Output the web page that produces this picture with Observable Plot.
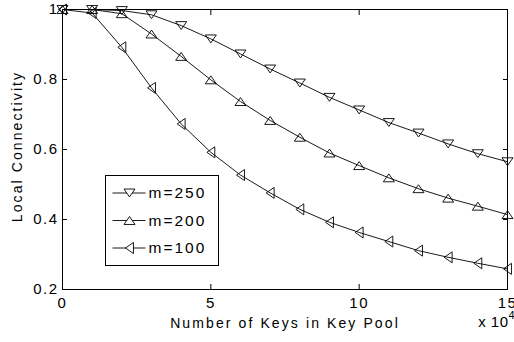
<!DOCTYPE html>
<html><head><meta charset="utf-8">
<script src="https://cdn.jsdelivr.net/npm/d3@7"></script>
<script src="https://cdn.jsdelivr.net/npm/@observablehq/plot@0.6"></script>
<style>
body{margin:0;background:#fff;}
#chart{position:relative;width:514px;height:342px;overflow:hidden;}
</style></head><body><div id="chart"></div>
<script>
// ---- data ----
const keys = [0, 1, 2, 3, 4, 5, 6, 7, 8, 9, 10, 11, 12, 13, 14, 15]; // x 10^4
const seriesNames = ["m=250", "m=200", "m=100"];
const m250 = [1, 1, 0.997, 0.985, 0.954, 0.916, 0.873, 0.830, 0.790, 0.749, 0.713, 0.677, 0.647, 0.616, 0.588, 0.565];
const m200 = [1, 1, 0.988, 0.930, 0.866, 0.799, 0.737, 0.683, 0.635, 0.590, 0.554, 0.519, 0.488, 0.461, 0.438, 0.414];
const m100 = [1, 0.990, 0.892, 0.776, 0.673, 0.592, 0.527, 0.476, 0.429, 0.392, 0.363, 0.337, 0.311, 0.292, 0.275, 0.259];
const xTicks = [0, 5, 10, 15];
const xTickLabels = ["0", "5", "10", "15"];
const yTicks = [0.2, 0.4, 0.6, 0.8, 1];
const yTickLabels = ["0.2", "0.4", "0.6", "0.8", "1"];
const xLabel = "Number of Keys in Key Pool";
const yLabel = "Local Connectivity";
const xMultiplier = "x 10";
const xExponent = "4";

const seriesValues = [m250, m200, m100];
const rows = seriesNames.flatMap((name, s) => keys.map((k, i) => ({series: name, x: k, y: seriesValues[s][i]})));

// triangle marker symbols (down, up, left)
const makeTriangle = (dir) => ({
  draw(ctx, size) {
    const r = Math.sqrt(size / Math.PI);
    const h = 0.72 * r;
    let pts = [[0, -h], [r, h], [-r, h]];
    if (dir === "down") pts = pts.map(([x, y]) => [x, -y]);
    if (dir === "left") pts = pts.map(([x, y]) => [y, x]);
    ctx.moveTo(pts[0][0], pts[0][1]);
    ctx.lineTo(pts[1][0], pts[1][1]);
    ctx.lineTo(pts[2][0], pts[2][1]);
    ctx.closePath();
  }
});
const symbols = [makeTriangle("down"), makeTriangle("up"), makeTriangle("left")];
const R = 5.5;

const seriesMarks = seriesNames.flatMap((name, s) => {
  const d = rows.filter(r => r.series === name);
  return [
    Plot.line(d, {x: "x", y: "y", stroke: "#000", strokeWidth: 0.9}),
    Plot.dot(d, {x: "x", y: "y", symbol: symbols[s], r: R, stroke: "#000", fill: "none", strokeWidth: 0.9})
  ];
});

const plot = Plot.plot({
  width: 514, height: 342,
  marginLeft: 62, marginRight: 7, marginTop: 9, marginBottom: 53,
  style: {fontFamily: "'Liberation Sans', Arial, sans-serif", fontSize: "15px", color: "#000", background: "#fff", overflow: "visible"},
  x: {domain: [0, 15], label: null},
  y: {domain: [0.2, 1], label: null},
  marks: [
    // inward ticks on all four sides
    Plot.axisX(xTicks, {anchor: "bottom", tickSize: 5, dy: -5, fill: "none", label: null}),
    Plot.axisX(xTicks, {anchor: "top", tickSize: 5, dy: 5, fill: "none", label: null}),
    Plot.axisY(yTicks, {anchor: "left", tickSize: 5, dx: 5, fill: "none", label: null}),
    Plot.axisY(yTicks, {anchor: "right", tickSize: 5, dx: -5, fill: "none", label: null}),
    // tick labels
    Plot.axisX(xTicks, {anchor: "bottom", tickSize: 0, tickPadding: 8, fontSize: 15, label: null,
      tickFormat: d => xTickLabels[xTicks.indexOf(d)]}),
    Plot.axisY(yTicks, {anchor: "left", tickSize: 0, tickPadding: 4, fontSize: 15, label: null,
      tickFormat: d => yTickLabels[yTicks.findIndex(t => Math.abs(t - d) < 1e-9)]}),
    Plot.frame({stroke: "#000", strokeWidth: 1}),
    ...seriesMarks,
    // axis titles
    Plot.text([xLabel], {text: d => d, frameAnchor: "bottom", textAnchor: "middle", lineAnchor: "middle", dy: 34, fontSize: 14, fill: "#000"}),
    Plot.text([yLabel], {text: d => d, frameAnchor: "left", textAnchor: "middle", lineAnchor: "middle", rotate: -90, dx: -45, dy: -3, fontSize: 14, fill: "#000"}),
    Plot.text([xMultiplier], {text: d => d, frameAnchor: "bottom-right", textAnchor: "end", lineAnchor: "middle", dx: 1, dy: 33, fontSize: 15, fill: "#000"}),
    Plot.text([xExponent], {text: d => d, frameAnchor: "bottom-right", textAnchor: "start", lineAnchor: "middle", dx: 1, dy: 26, fontSize: 11, fill: "#000"})
  ]
});

document.getElementById("chart").appendChild(plot);

const svg = d3.select(plot);
// letter spacing to mimic the wide rendering of the original
svg.selectAll("text").each(function() {
  const t = this.textContent;
  if (t === xLabel || t === yLabel) this.style.letterSpacing = "2.1px";
  else if (t === xMultiplier) this.style.letterSpacing = "0.5px";
  else if (t !== xExponent) this.style.letterSpacing = "1.5px";
});

// legend box
const lg = svg.append("g").attr("transform", "translate(105.5,175.5)")
  .attr("font-family", "'Liberation Sans', Arial, sans-serif").attr("text-anchor", "start");
lg.append("rect").attr("width", 113).attr("height", 90).attr("fill", "#fff").attr("stroke", "#000");
seriesNames.forEach((name, s) => {
  const cy = 17.5 + s * 27.5;
  lg.append("line").attr("x1", 7).attr("x2", 40).attr("y1", cy).attr("y2", cy)
    .attr("stroke", "#000").attr("stroke-width", 0.9);
  const p = d3.path();
  symbols[s].draw(p, Math.PI * R * R);
  lg.append("path").attr("d", p.toString()).attr("transform", `translate(24,${cy})`)
    .attr("fill", "#fff").attr("stroke", "#000").attr("stroke-width", 0.9);
  lg.append("text").attr("x", 43).attr("y", cy).attr("dy", "0.35em").attr("text-anchor", "start")
    .attr("font-size", 15.5).style("letter-spacing", "2px").attr("fill", "#000").text(name);
});
</script>
</body></html>
